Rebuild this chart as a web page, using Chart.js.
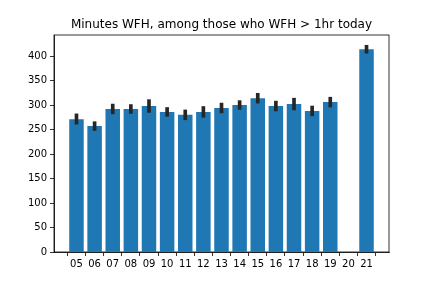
<!DOCTYPE html>
<html>
<head>
<meta charset="utf-8">
<script src="https://cdn.jsdelivr.net/npm/chart.js@4"></script>
<style>html,body{margin:0;padding:0;background:#fff;}canvas{display:block;}</style>
</head>
<body>
<canvas id="c" width="432" height="288"></canvas>
<script>
const hours = ['05','06','07','08','09','10','11','12','13','14','15','16','17','18','19','20','21'];
const minutes = [271,257,292,292,298,286,280,286,294,300,314,298,302,288,306,null,414];
const errLow = [261,248,282,283,285,277,270,275,284,291,304,288,290,278,296,null,406];
const errHigh = [282,266,302,301,311,295,290,297,304,309,324,308,314,298,316,null,422];
const titleText = 'Minutes WFH, among those who WFH > 1hr today';

const barData = hours.map((h,i)=>({x:i, y:minutes[i]}));
const errData = hours.map((h,i)=> errLow[i]==null ? {x:i, y:null} : ({x:i, y:[errLow[i], errHigh[i]]}));

const frame = {
  id:'frame',
  afterDraw(chart){
    const a = chart.chartArea, ctx = chart.ctx;
    ctx.save();
    ctx.strokeStyle = '#000';
    ctx.lineWidth = 0.8;
    ctx.strokeRect(a.left, a.top, a.right-a.left, a.bottom-a.top);
    ctx.restore();
  }
};

Chart.defaults.font.family = '"DejaVu Sans", sans-serif';
Chart.defaults.color = '#000';

new Chart(document.getElementById('c'), {
  type:'bar',
  data:{
    datasets:[
      {data:errData, backgroundColor:'#262626', barThickness:3, grouped:false, order:0},
      {data:barData, backgroundColor:'#1f77b4', categoryPercentage:1, barPercentage:0.8, grouped:false, order:1}
    ]
  },
  options:{
    responsive:false,
    animation:false,
    layout:{padding:{left:0,right:43,top:0,bottom:0}},
    plugins:{
      legend:{display:false},
      tooltip:{enabled:false},
      title:{display:true, text:titleText, fullSize:false, color:'#000',
        font:{size:12, weight:'normal'}, padding:{top:18,bottom:2.6}}
    },
    scales:{
      x:{
        type:'linear', min:-1.24, max:17.24, offset:false,
        afterBuildTicks(s){ s.ticks = hours.map((h,i)=>({value:i})); },
        afterFit(s){ s.height = 36; },
        ticks:{stepSize:1, autoSkip:false, maxRotation:0, includeBounds:false, padding:2,
          font:{size:10}, color:'#000', callback:(v)=>hours[v] ?? ''},
        grid:{drawOnChartArea:false, drawTicks:true, tickLength:4, color:'#000', lineWidth:0.8},
        border:{display:true, color:'#000', width:0.8}
      },
      y:{
        min:0, max:443,
        afterFit(s){ s.width = 54; },
        ticks:{stepSize:50, includeBounds:false, padding:3, font:{size:10}, color:'#000'},
        grid:{drawOnChartArea:false, drawTicks:true, tickLength:4, color:'#000', lineWidth:0.8},
        border:{display:true, color:'#000', width:0.8}
      }
    }
  },
  plugins:[frame]
});
</script>
</body>
</html>
